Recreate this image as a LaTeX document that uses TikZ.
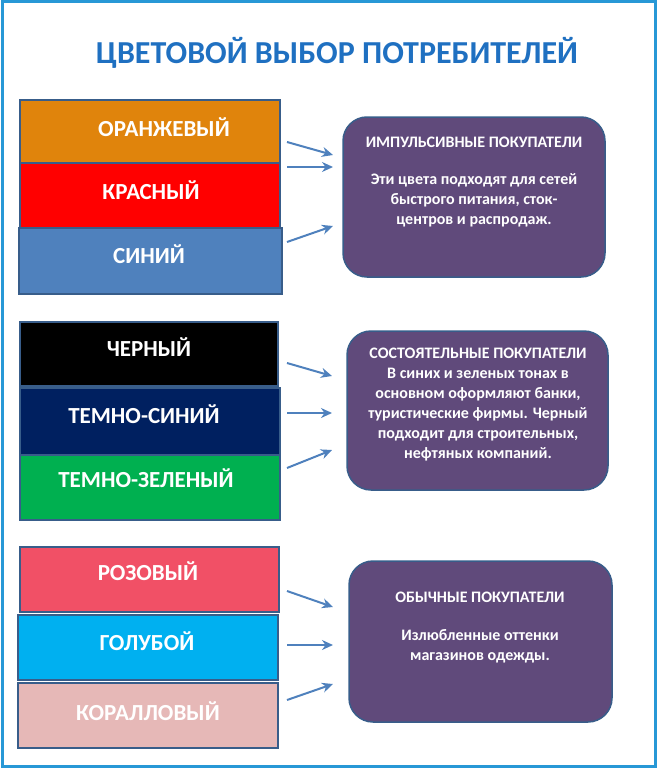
\documentclass[tikz,border=0pt]{standalone}
\usepackage{fontspec}
\setmainfont{Carlito}
\usetikzlibrary{arrows.meta}
\definecolor{cor}{HTML}{E0840C}
\definecolor{cred}{HTML}{FF0000}
\definecolor{cblu}{HTML}{4F81BD}
\definecolor{cnav}{HTML}{002060}
\definecolor{cgrn}{HTML}{00B050}
\definecolor{cpnk}{HTML}{F15066}
\definecolor{ccya}{HTML}{00B0F0}
\definecolor{ccor}{HTML}{E6B8B7}
\definecolor{cpur}{HTML}{604A7B}
\definecolor{cedge}{HTML}{385D8A}
\definecolor{ctitle}{HTML}{1F70C1}
\tikzset{
 band/.style={draw=cedge,line width=1.5pt,text=white,font=\bfseries\fontsize{23}{26}\selectfont},
 info/.style={draw=cedge,line width=1.5pt,fill=cpur,rounded corners=24pt,text=white,align=center,font=\bfseries\fontsize{16}{20}\selectfont},
 arr/.style={draw=cblu,line width=2pt,-{Stealth[length=11pt,width=10pt]}}
}
\begin{document}
\begin{tikzpicture}[x=1pt,y=-1pt]
\useasboundingbox (0,0) rectangle (657,768);
\draw[ccya!50!cblu,line width=3pt] (2,2) rectangle (655,766);
\node[font=\bfseries\fontsize{32}{34}\selectfont,text=ctitle] (title) at (337,53) {ЦВЕТОВОЙ ВЫБОР ПОТРЕБИТЕЛЕЙ};
% group 1
\path[band,fill=cor] (20,100) rectangle (280,163);
\path[band,fill=cred] (20,163) rectangle (280,228);
\path[band,fill=cblu] (19,228) rectangle (282,294);
\node[band,draw=none] (o) at (164,127) {ОРАНЖЕВЫЙ};
\node[band,draw=none] (r) at (151,190) {КРАСНЫЙ};
\node[band,draw=none] (b) at (149,254) {СИНИЙ};
\draw[info] (343,117) rectangle (605,277);
\node[info,draw=none,fill=none] (i1) at (474,142) {ИМПУЛЬСИВНЫЕ ПОКУПАТЕЛИ};
\node[info,draw=none,fill=none] (i1t) at (474,200) {Эти цвета подходят для сетей\\быстрого питания, сток-\\центров и распродаж.};
\coordinate (a1) at (287,142); \coordinate (b1) at (333,155);
\coordinate (a2) at (287,167); \coordinate (b2) at (333,167);
\coordinate (a3) at (287,242); \coordinate (b3) at (333,226);
\draw[arr] (a1)--(b1); \draw[arr] (a2)--(b2); \draw[arr] (a3)--(b3);
% group 2
\path[band,fill=black] (20,322) rectangle (278,386);
\path[band,fill=cnav] (20,388) rectangle (280,455);
\path[band,fill=cgrn] (20,455) rectangle (280,520);
\node[band,draw=none] (k) at (149,347) {ЧЕРНЫЙ};
\node[band,draw=none] (n) at (144,414) {ТЕМНО-СИНИЙ};
\node[band,draw=none] (g) at (146,478) {ТЕМНО-ЗЕЛЕНЫЙ};
\draw[info] (347,331) rectangle (608,490);
\node[info,draw=none,fill=none] (i2) at (478,405) {СОСТОЯТЕЛЬНЫЕ ПОКУПАТЕЛИ\\В синих и зеленых тонах в\\основном оформляют банки,\\туристические фирмы. Черный\\подходит для строительных,\\нефтяных компаний.};
\coordinate (c1) at (287,363); \coordinate (d1) at (332,376);
\coordinate (c2) at (287,413); \coordinate (d2) at (332,413);
\coordinate (c3) at (287,468); \coordinate (d3) at (332,450);
\draw[arr] (c1)--(d1); \draw[arr] (c2)--(d2); \draw[arr] (c3)--(d3);
% group 3
\path[band,fill=cpnk] (20,547) rectangle (279,612);
\path[band,fill=ccya] (18,615) rectangle (278,680);
\path[band,fill=ccor] (18,683) rectangle (278,748);
\node[band,draw=none] (p) at (148,571) {РОЗОВЫЙ};
\node[band,draw=none] (c) at (147,641) {ГОЛУБОЙ};
\node[band,draw=none] (l) at (148,711) {КОРАЛЛОВЫЙ};
\draw[info] (349,561) rectangle (612,722);
\node[info,draw=none,fill=none] (i3) at (480,597) {ОБЫЧНЫЕ ПОКУПАТЕЛИ};
\node[info,draw=none,fill=none] (i3t) at (480,646) {Излюбленные оттенки\\магазинов одежды.};
\coordinate (e1) at (287,591); \coordinate (f1) at (333,607);
\coordinate (e2) at (287,645); \coordinate (f2) at (333,645);
\coordinate (e3) at (287,700); \coordinate (f3) at (333,684);
\draw[arr] (e1)--(f1); \draw[arr] (e2)--(f2); \draw[arr] (e3)--(f3);
\end{tikzpicture}
\end{document}
